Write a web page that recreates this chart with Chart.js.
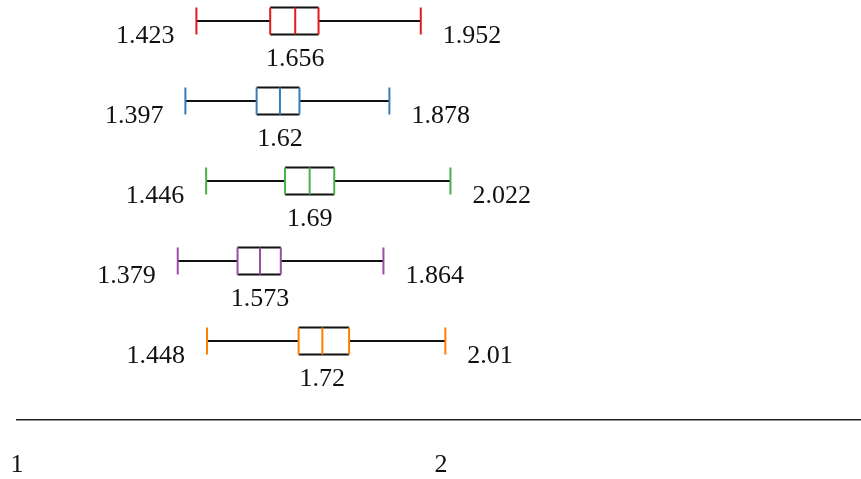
<!DOCTYPE html>
<html>
<head>
<meta charset="utf-8">
<script src="https://cdn.jsdelivr.net/npm/chart.js@4"></script>
<style>
  html, body { margin: 0; padding: 0; background: #fff; }
  #wrap { width: 861px; height: 479px; }
</style>
</head>
<body>
<div id="wrap"><canvas id="boxChart"></canvas></div>
<script>
// one row per group, top to bottom
const groups = ['A', 'B', 'C', 'D', 'E'];
const colors = ['#e41a1c', '#377eb8', '#4daf4a', '#984ea3', '#ff7f00'];
const mins = [1.423, 1.397, 1.446, 1.379, 1.448];
const q1s = [1.597, 1.565, 1.632, 1.520, 1.664];
const medians = [1.656, 1.62, 1.69, 1.573, 1.72];
const q3s = [1.711, 1.666, 1.748, 1.622, 1.783];
const maxs = [1.952, 1.878, 2.022, 1.864, 2.01];
const tickValues = [1, 2];

const FAMILY = '"Liberation Serif", "DejaVu Serif", serif';
const FONT = '26px ' + FAMILY;
const HALF = 13.5;

const boxPlugin = {
    id: 'boxes',
    afterDatasetsDraw(chart) {
        const ctx = chart.ctx;
        const xs = chart.scales.x;
        const ys = chart.scales.y;
        ctx.save();
        groups.forEach((g, i) => {
            const y = ys.getPixelForValue(i);
            const xMin = xs.getPixelForValue(mins[i]);
            const xQ1 = xs.getPixelForValue(q1s[i]);
            const xMed = xs.getPixelForValue(medians[i]);
            const xQ3 = xs.getPixelForValue(q3s[i]);
            const xMax = xs.getPixelForValue(maxs[i]);
            const col = colors[i];

            ctx.lineWidth = 2;
            // whiskers
            ctx.strokeStyle = '#111';
            ctx.beginPath();
            ctx.moveTo(xMin, y); ctx.lineTo(xQ1, y);
            ctx.moveTo(xQ3, y); ctx.lineTo(xMax, y);
            // box top / bottom
            ctx.moveTo(xQ1, y - HALF); ctx.lineTo(xQ3, y - HALF);
            ctx.moveTo(xQ1, y + HALF); ctx.lineTo(xQ3, y + HALF);
            ctx.stroke();

            // coloured caps, box sides and median
            ctx.strokeStyle = col;
            ctx.beginPath();
            [xMin, xQ1, xMed, xQ3, xMax].forEach(px => {
                ctx.moveTo(px, y - HALF); ctx.lineTo(px, y + HALF);
            });
            ctx.stroke();

            // labels
            ctx.fillStyle = '#111';
            ctx.font = FONT;
            ctx.textBaseline = 'middle';
            ctx.textAlign = 'right';
            ctx.fillText(String(mins[i]), xMin - 22, y + 15);
            ctx.textAlign = 'left';
            ctx.fillText(String(maxs[i]), xMax + 22, y + 15);
            ctx.textAlign = 'center';
            ctx.fillText(String(medians[i]), xMed, y + 38);
        });
        ctx.restore();
    }
};

const ctx = document.getElementById('boxChart').getContext('2d');

new Chart(ctx, {
    type: 'scatter',
    data: {
        datasets: [{
            data: groups.map((g, i) => ({x: medians[i], y: i})),
            pointRadius: 0,
            pointHoverRadius: 0
        }]
    },
    options: {
        responsive: true,
        maintainAspectRatio: false,
        animation: false,
        events: [],
        layout: { padding: { left: 17, right: 0, top: 0, bottom: 0 } },
        plugins: { legend: { display: false }, tooltip: { enabled: false } },
        scales: {
            x: {
                type: 'linear',
                min: 1,
                max: 2.99,
                afterBuildTicks: (scale) => {
                    scale.ticks = tickValues.map(v => ({value: v}));
                },
                afterFit: (scale) => {
                    scale.height = 59;
                    scale.paddingLeft = 0;
                    scale.paddingRight = 0;
                },
                grid: { color: 'rgba(0,0,0,0)', drawTicks: false, drawOnChartArea: false },
                border: { display: true, color: '#222', width: 1.5 },
                ticks: {
                    padding: 30,
                    color: '#111',
                    font: { family: FAMILY, size: 26 },
                    maxRotation: 0,
                    autoSkip: false,
                    callback: (v) => String(v)
                }
            },
            y: {
                type: 'linear',
                display: false,
                reverse: true,
                min: -0.2625,
                max: 4.9875
            }
        }
    },
    plugins: [boxPlugin]
});
</script>
</body>
</html>
